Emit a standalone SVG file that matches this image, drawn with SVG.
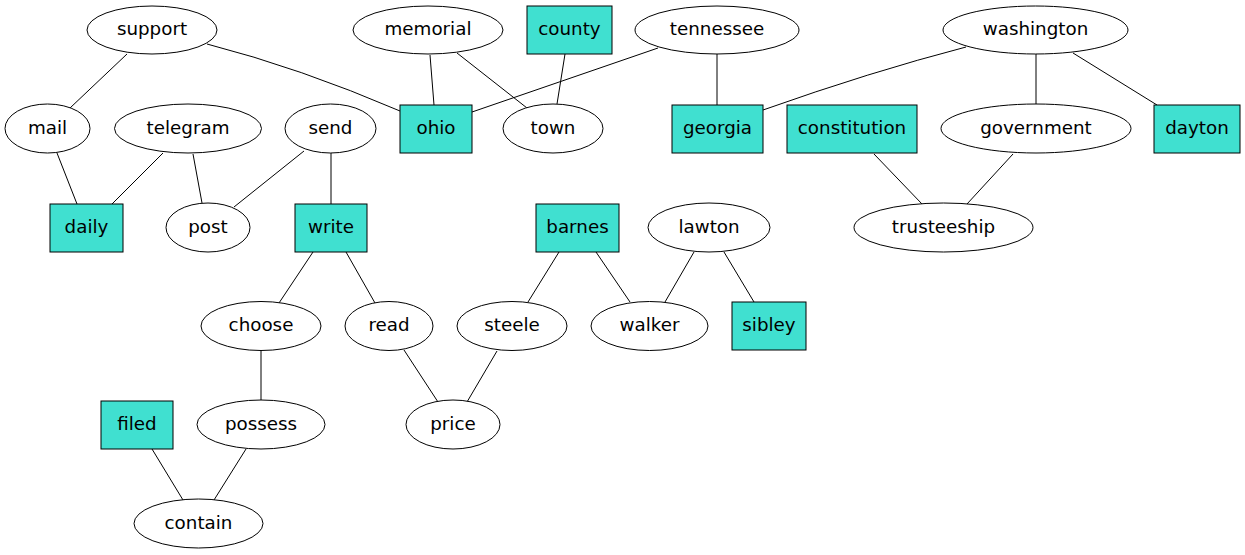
<svg xmlns="http://www.w3.org/2000/svg" width="1245" height="555" viewBox="0 0 1245 555">
<style>
.n ellipse{fill:#fff;stroke:#000;stroke-width:1}
.n rect{fill:#40e0d0;stroke:#000;stroke-width:1}
.n text{font-family:"DejaVu Sans",sans-serif;font-size:18.3px;text-anchor:middle;fill:#000}
#edges line,#edges path{stroke:#000;stroke-width:1;fill:none}
</style>
<rect width="1245" height="555" fill="#fff"/>
<g id="edges">
<line x1="127" y1="54" x2="70" y2="108"/>
<path d="M207,44 Q300,68 400,111"/>
<line x1="430" y1="55" x2="434" y2="105"/>
<line x1="457" y1="53" x2="527" y2="108"/>
<line x1="565" y1="54" x2="557" y2="104"/>
<line x1="658" y1="48" x2="472" y2="112"/>
<line x1="717" y1="54" x2="717" y2="105"/>
<path d="M966,47 Q870,72 763,110"/>
<line x1="1036" y1="54" x2="1036" y2="104"/>
<line x1="1073" y1="53" x2="1157" y2="105"/>
<line x1="874" y1="154" x2="922" y2="204"/>
<line x1="1013" y1="154" x2="967" y2="204"/>
<line x1="57" y1="153" x2="77" y2="204"/>
<line x1="163" y1="153" x2="112" y2="204"/>
<line x1="193" y1="154" x2="202" y2="203"/>
<line x1="304" y1="151" x2="234" y2="207"/>
<line x1="331" y1="153" x2="331" y2="204"/>
<line x1="313" y1="252" x2="279" y2="303"/>
<line x1="346" y1="252" x2="375" y2="303"/>
<line x1="559" y1="252" x2="528" y2="302"/>
<line x1="596" y1="252" x2="630" y2="302"/>
<line x1="694" y1="252" x2="665" y2="302"/>
<line x1="724" y1="252" x2="754" y2="302"/>
<line x1="261" y1="350" x2="261" y2="400"/>
<line x1="404" y1="350" x2="438" y2="402"/>
<line x1="497" y1="351" x2="467" y2="402"/>
<line x1="152" y1="449" x2="183" y2="500"/>
<line x1="246" y1="449" x2="214" y2="500"/>
</g>
<g id="support" class="n"><ellipse cx="152" cy="30" rx="65" ry="24"/><text x="152" y="35">support</text></g>
<g id="memorial" class="n"><ellipse cx="428" cy="30" rx="75" ry="24"/><text x="428" y="35">memorial</text></g>
<g id="county" class="n"><rect x="527" y="6" width="85" height="48"/><text x="569.5" y="35">county</text></g>
<g id="tennessee" class="n"><ellipse cx="717" cy="30" rx="82" ry="24"/><text x="717" y="35">tennessee</text></g>
<g id="washington" class="n"><ellipse cx="1035.5" cy="30" rx="92.5" ry="24"/><text x="1035.5" y="35">washington</text></g>
<g id="mail" class="n"><ellipse cx="47.5" cy="128.5" rx="42.5" ry="24.5"/><text x="47.5" y="134">mail</text></g>
<g id="telegram" class="n"><ellipse cx="188" cy="128.5" rx="73.5" ry="24.5"/><text x="188" y="134">telegram</text></g>
<g id="send" class="n"><ellipse cx="330.5" cy="128.5" rx="45.5" ry="24.5"/><text x="330.5" y="134">send</text></g>
<g id="ohio" class="n"><rect x="400" y="105" width="72" height="48"/><text x="436" y="134">ohio</text></g>
<g id="town" class="n"><ellipse cx="553" cy="128.5" rx="50" ry="24.5"/><text x="553" y="134">town</text></g>
<g id="georgia" class="n"><rect x="672" y="105" width="91" height="48"/><text x="717.5" y="134">georgia</text></g>
<g id="constitution" class="n"><rect x="787" y="105" width="130" height="48"/><text x="852" y="134">constitution</text></g>
<g id="government" class="n"><ellipse cx="1036" cy="128.5" rx="95" ry="24.5"/><text x="1036" y="134">government</text></g>
<g id="dayton" class="n"><rect x="1154" y="105" width="86" height="48"/><text x="1197" y="134">dayton</text></g>
<g id="daily" class="n"><rect x="50" y="204" width="73" height="48"/><text x="86.5" y="233">daily</text></g>
<g id="post" class="n"><ellipse cx="208" cy="227.5" rx="42" ry="24.5"/><text x="208" y="233">post</text></g>
<g id="write" class="n"><rect x="295" y="204" width="72" height="48"/><text x="331" y="233">write</text></g>
<g id="barnes" class="n"><rect x="536" y="204" width="83" height="48"/><text x="577.5" y="233">barnes</text></g>
<g id="lawton" class="n"><ellipse cx="709" cy="227.5" rx="61" ry="24.5"/><text x="709" y="233">lawton</text></g>
<g id="trusteeship" class="n"><ellipse cx="943.5" cy="227.5" rx="89.5" ry="24.5"/><text x="943.5" y="233">trusteeship</text></g>
<g id="choose" class="n"><ellipse cx="261" cy="326" rx="60" ry="24.5"/><text x="261" y="331">choose</text></g>
<g id="read" class="n"><ellipse cx="389" cy="326" rx="44" ry="24.5"/><text x="389" y="331">read</text></g>
<g id="steele" class="n"><ellipse cx="512" cy="326" rx="55" ry="24.5"/><text x="512" y="331">steele</text></g>
<g id="walker" class="n"><ellipse cx="649.5" cy="326" rx="58.5" ry="24.5"/><text x="649.5" y="331">walker</text></g>
<g id="sibley" class="n"><rect x="732" y="302" width="74" height="48"/><text x="769" y="331">sibley</text></g>
<g id="filed" class="n"><rect x="101" y="401" width="72" height="48"/><text x="137" y="430">filed</text></g>
<g id="possess" class="n"><ellipse cx="261" cy="424.5" rx="64" ry="24.5"/><text x="261" y="430">possess</text></g>
<g id="price" class="n"><ellipse cx="453" cy="424.5" rx="47" ry="24.5"/><text x="453" y="430">price</text></g>
<g id="contain" class="n"><ellipse cx="198.5" cy="523.5" rx="64.5" ry="24.5"/><text x="198.5" y="529">contain</text></g>
</svg>
